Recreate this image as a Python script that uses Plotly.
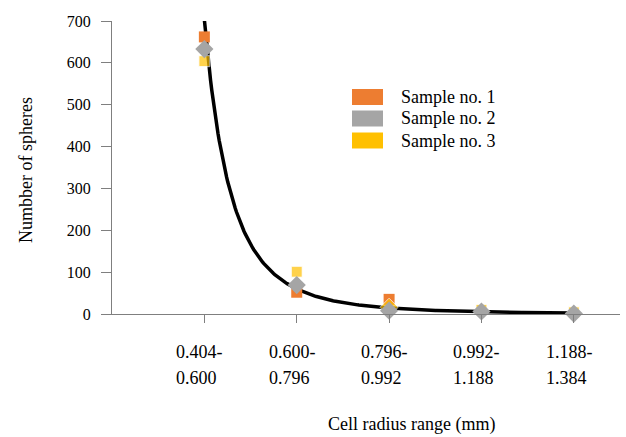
import numpy as np
import plotly.graph_objects as go

# ---- data ----
range_lo = ["0.404", "0.600", "0.796", "0.992", "1.188"]
range_hi = ["0.600", "0.796", "0.992", "1.188", "1.384"]
cat_pos = [1, 2, 3, 4, 5]
sample1 = [662, 52, 35, -10, -14]
sample2 = [633, 69, 8, 6, 1]
sample3 = [604, 101, 16, 10, 4]
series_names = ["Sample no. 1", "Sample no. 2", "Sample no. 3"]
y_ticks = [0, 100, 200, 300, 400, 500, 600, 700]

# power-law trend line coefficients (y = a * x^-b)
TREND_A = 703
TREND_B = 3.55

# ---- styling ----
FONT = "Times New Roman"
C1, C2, C3 = "#ED7D31", "#A5A5A5", "#FFC000"
AXIS_COL = "#7f7f7f"

W, H = 626, 437
ML, MR, MT, MB = 112, 6, 21, 123
PW, PH = W - ML - MR, H - MT - MB


def px(x):
    return (x - ML) / PW


def py(y):
    return (H - MB - y) / PH


fig = go.Figure()

tx = np.linspace(1, 5, 300)
ty = TREND_A * tx ** (-TREND_B)
fig.add_trace(go.Scatter(x=tx, y=ty, mode="lines", line=dict(color="black", width=3.5),
                         showlegend=False, hoverinfo="skip"))

fig.add_trace(go.Scatter(x=cat_pos, y=sample1, mode="markers", name=series_names[0],
                         marker=dict(symbol="square", size=11, color=C1),
                         cliponaxis=False, showlegend=False))
fig.add_trace(go.Scatter(x=cat_pos, y=sample3, mode="markers", name=series_names[2],
                         marker=dict(symbol=["square", "square", "diamond", "square", "square"],
                                     size=[11, 11, 14, 11, 11], color=C3),
                         cliponaxis=False, showlegend=False))
fig.add_trace(go.Scatter(x=cat_pos, y=sample2, mode="markers", name=series_names[1],
                         marker=dict(symbol="diamond", size=14, color=C2),
                         cliponaxis=False, showlegend=False))

txt_font = dict(family=FONT, size=18, color="black")

# manual legend with wide swatches
legend_colors = [C1, C2, C3]
legend_rows = [97, 118.5, 140.5]
for name, col, yc in zip(series_names, legend_colors, legend_rows):
    fig.add_shape(type="rect", xref="paper", yref="paper",
                  x0=px(352), x1=px(383), y0=py(yc - 8), y1=py(yc + 8),
                  fillcolor=col, line=dict(width=0))
    fig.add_annotation(xref="paper", yref="paper", x=px(399), y=py(yc), text=name,
                       showarrow=False, xanchor="left", yanchor="middle", font=txt_font)

# x category labels, two lines each
for xp, lo, hi in zip(cat_pos, range_lo, range_hi):
    fig.add_annotation(xref="x", yref="paper", x=xp, y=py(352), text=lo + "-",
                       showarrow=False, xanchor="left", yanchor="middle", xshift=-30,
                       font=txt_font)
    fig.add_annotation(xref="x", yref="paper", x=xp, y=py(378), text=hi,
                       showarrow=False, xanchor="left", yanchor="middle", xshift=-30,
                       font=txt_font)

# axis titles
fig.add_annotation(xref="paper", yref="paper", x=px(26), y=py(170), text="Numbber of spheres",
                   textangle=-90, showarrow=False, xanchor="center", yanchor="middle",
                   font=txt_font)
fig.add_annotation(xref="paper", yref="paper", x=px(411), y=py(424), text="Cell radius range (mm)",
                   showarrow=False, xanchor="center", yanchor="middle", font=txt_font)

fig.update_layout(
    width=W, height=H,
    margin=dict(l=ML, r=MR, t=MT, b=MB),
    paper_bgcolor="white", plot_bgcolor="white",
    font=dict(family=FONT, color="black"),
    showlegend=False,
    xaxis=dict(range=[0, 5.5], tickvals=cat_pos, showticklabels=False,
               ticks="outside", ticklen=8, tickcolor=AXIS_COL, tickwidth=1,
               showline=True, linecolor=AXIS_COL, linewidth=1,
               showgrid=False, zeroline=False),
    yaxis=dict(range=[0, 700], tickvals=y_ticks,
               ticks="outside", ticklen=10, tickcolor=AXIS_COL, tickwidth=1,
               showline=True, linecolor=AXIS_COL, linewidth=1,
               showgrid=False, zeroline=False, ticklabelstandoff=7,
               tickfont=dict(family=FONT, size=16, color="black")),
)

fig.write_html("out.html", config={"displayModeBar": False},
               post_script="document.body.style.margin='0';")
